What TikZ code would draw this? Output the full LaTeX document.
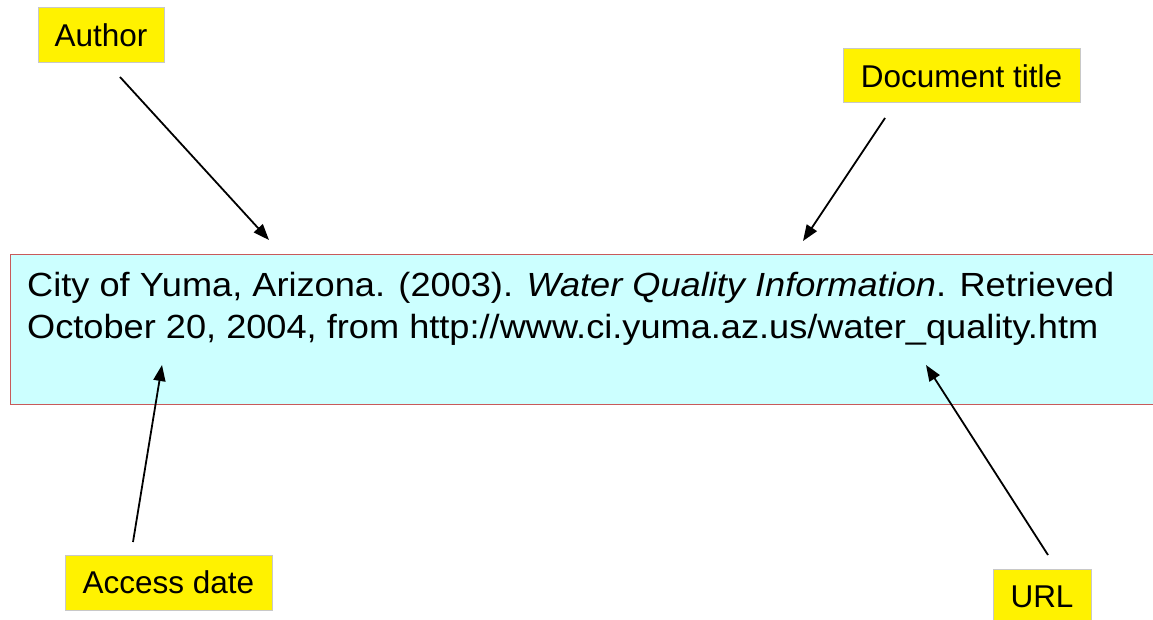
\documentclass[tikz,border=0pt]{standalone}
\usepackage{fontspec}
\setmainfont{Liberation Sans}
\newfontfamily\citefont[FakeStretch=1.08]{Liberation Sans}
\usepackage{xcolor}
\usetikzlibrary{arrows.meta,positioning}
\definecolor{citefill}{HTML}{CCFFFF}
\definecolor{citeline}{HTML}{C85A5A}
\definecolor{tagline}{HTML}{C8C8C8}
\tikzset{
	tag/.style={draw=tagline, line width=1pt, fill=yellow, inner sep=0pt, font=\fontsize{31.5}{36}\selectfont},
	pointer/.style={line width=1.8pt, -{Triangle[length=16pt,width=12pt]}},
	citetext/.style={anchor=base west, inner sep=0pt, font=\citefont\fontsize{33.5}{42}\selectfont},
}

\begin{document}
\begin{tikzpicture}[x=1pt,y=-1pt]
		\useasboundingbox (0,0) rectangle (1153,620);
		\node [draw=citeline, line width=1.2pt, fill=citefill, minimum width=1160pt, minimum height=150pt, anchor=north west] (citation) at (10,254) {};
		\node [citetext] (line1) at (27,296) {City of Yuma, Arizona. (2003). \textit{Water Quality Information}. Retrieved};
		\node [citetext] (line2) at (27,338) {October 20, 2004, from http://www.ci.yuma.az.us/water\_quality.htm};
		\node [tag, minimum width=126pt, minimum height=55pt] (author) at (101,35.5) {Author};
		\node [tag, minimum width=237pt, minimum height=54pt] (title) at (961.5,76) {Document title};
		\node [tag, minimum width=207pt, minimum height=55pt] (access) at (168.5,582.5) {Access date};
		\node [tag, minimum width=98pt, minimum height=55pt] (url) at (1042,596.5) {URL};
		\coordinate (authorfrom) at (120,77);
		\coordinate (authorto) at (269,240);
		\coordinate (titlefrom) at (885,118);
		\coordinate (titleto) at (803,241);
		\coordinate (accessfrom) at (133,542);
		\coordinate (accessto) at (162,365);
		\coordinate (urlfrom) at (1048,555);
		\coordinate (urlto) at (926,365);
		\draw [pointer] (authorfrom) -- (authorto);
		\draw [pointer] (titlefrom) -- (titleto);
		\draw [pointer] (accessfrom) -- (accessto);
		\draw [pointer] (urlfrom) -- (urlto);
	\end{tikzpicture}
\end{document}
